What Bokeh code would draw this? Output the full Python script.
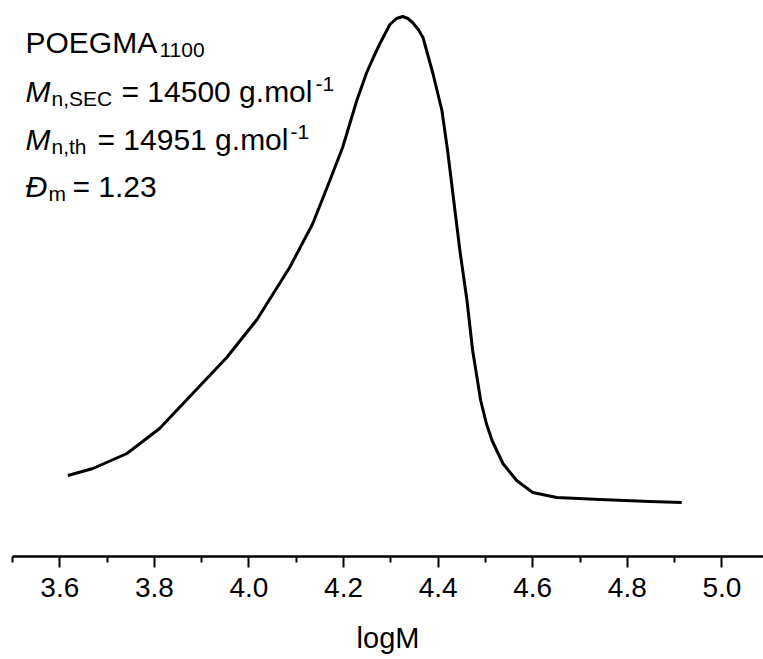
from bokeh.plotting import figure
from bokeh.models import Label, FixedTicker, Range1d
from bokeh.embed import file_html
from bokeh.resources import INLINE

# ---- data ----
log_m = [3.617, 3.670, 3.742, 3.811, 3.881, 3.953, 4.017, 4.086, 4.135, 4.171,
         4.198, 4.228, 4.249, 4.264, 4.277, 4.298, 4.312, 4.325, 4.336, 4.346,
         4.358, 4.368, 4.389, 4.408, 4.420, 4.433, 4.446, 4.461, 4.473, 4.490,
         4.502, 4.514, 4.537, 4.566, 4.600, 4.651, 4.742, 4.848, 4.915]
signal = [81, 88, 103, 128, 163, 199, 237, 289, 333, 376,
          409, 456, 484, 500, 513, 532, 538, 540, 538, 534,
          527, 519, 483, 446, 406, 356, 306, 256, 206, 156,
          133, 116, 93, 76, 64, 59, 57, 55, 54]
major_ticks = [3.6, 3.8, 4.0, 4.2, 4.4, 4.6, 4.8, 5.0]
minor_ticks = [3.5, 3.7, 3.9, 4.1, 4.3, 4.5, 4.7, 4.9]
tick_labels = ["3.6", "3.8", "4.0", "4.2", "4.4", "4.6", "4.8", "5.0"]

X0, X1 = 3.5, 5.088
Y0, Y1 = 0, 556
W, H = 763, 659
ML, MB = 12, 103
FONT = "Liberation Sans"

p = figure(width=W, height=H, output_backend="svg", toolbar_location=None,
           x_range=Range1d(X0, X1), y_range=Range1d(Y0, Y1),
           min_border_left=ML, min_border_right=0, min_border_top=0,
           min_border_bottom=MB)
p.outline_line_color = None
p.xgrid.visible = False
p.ygrid.visible = False
p.yaxis.visible = False
p.background_fill_color = "white"
p.border_fill_color = "white"

p.line(log_m, signal, line_color="black", line_width=3, line_join="round")

ax = p.xaxis[0]
ax.ticker = FixedTicker(ticks=major_ticks, minor_ticks=minor_ticks)
ax.major_label_overrides = {t: s for t, s in zip(major_ticks, tick_labels)}
ax.axis_line_width = 2.5
ax.axis_line_color = "black"
ax.major_tick_line_width = 2
ax.minor_tick_line_width = 2
ax.major_tick_in = 0
ax.major_tick_out = 11
ax.minor_tick_in = 0
ax.minor_tick_out = 6
ax.major_label_text_font = FONT
ax.major_label_text_font_size = "28px"
ax.major_label_text_color = "black"
ax.major_label_standoff = 10
ax.axis_label = "logM"
ax.axis_label_text_font = FONT
ax.axis_label_text_font_style = "normal"
ax.axis_label_text_font_size = "29px"
ax.axis_label_text_color = "black"
ax.axis_label_standoff = 22

# pixel -> data helpers for the text block (canvas coordinates)
FW = W - ML
FH = H - MB


def dx(px):
    return X0 + (px - ML) / FW * (X1 - X0)


def dy(py):
    return Y1 - py / FH * (Y1 - Y0)


def lab(text, px, py, size, style="normal"):
    p.add_layout(Label(x=dx(px), y=dy(py), text=text, text_font=FONT,
                       text_font_size=size, text_font_style=style,
                       text_color="black", text_align="left",
                       text_baseline="alphabetic"))


BIG, SMALL = "30px", "21px"
# line 1
lab("POEGMA", 25, 42, BIG)
lab("1100", 159, 49, SMALL)
# line 2
lab("M", 25, 91, BIG, "italic")
lab("n,SEC", 51, 98, SMALL)
lab("= 14500 g.mol", 121, 91, BIG)
lab("-1", 315, 83, SMALL)
# line 3
lab("M", 25, 139, BIG, "italic")
lab("n,th", 51, 146, SMALL)
lab("= 14951 g.mol", 97, 139, BIG)
lab("-1", 290, 131, SMALL)
# line 4
lab("Đ", 25, 186, BIG, "italic")
lab("m", 48, 193, SMALL)
lab("= 1.23", 72, 186, BIG)

open("out.html", "w").write(file_html(p, INLINE))
